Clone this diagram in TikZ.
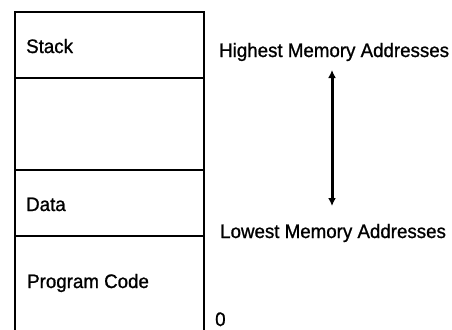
\documentclass[tikz,border=0pt]{standalone}
\usepackage{fontspec}
\setmainfont[FakeStretch=0.96,FakeBold=1]{Liberation Sans}
\usetikzlibrary{arrows.meta}
\begin{document}
\begin{tikzpicture}[x=1pt,y=-1pt,
  boxline/.style={line width=1.7pt},
  lbl/.style={anchor=base west,inner sep=0pt,font=\fontsize{19.5}{22}\selectfont},
  biarrow/.style={line width=3pt,{Latex[length=8pt,width=8pt]}-{Latex[length=8pt,width=8pt]}}]
\useasboundingbox (0,0) rectangle (452,329);
% memory column
\draw[boxline] (15,333) -- (15,12) -- (204,12) -- (204,333);
\draw[boxline] (15,78) -- (204,78);
\draw[boxline] (15,170) -- (204,170);
\draw[boxline] (15,236) -- (204,236);
% segment labels
\node[lbl] (stack) at (26,53) {Stack};
\node[lbl] (data) at (26,211) {Data};
\node[lbl] (code) at (27,288) {Program Code};
\node[lbl] (zero) at (215,326) {0};
% address labels
\node[lbl] (hi) at (219,57) {Highest Memory Addresses};
\node[lbl] (lo) at (220,238) {Lowest Memory Addresses};
\coordinate (atop) at (332,70);
\coordinate (abot) at (332,206);
\draw[biarrow] (atop) -- (abot);
\end{tikzpicture}
\end{document}
